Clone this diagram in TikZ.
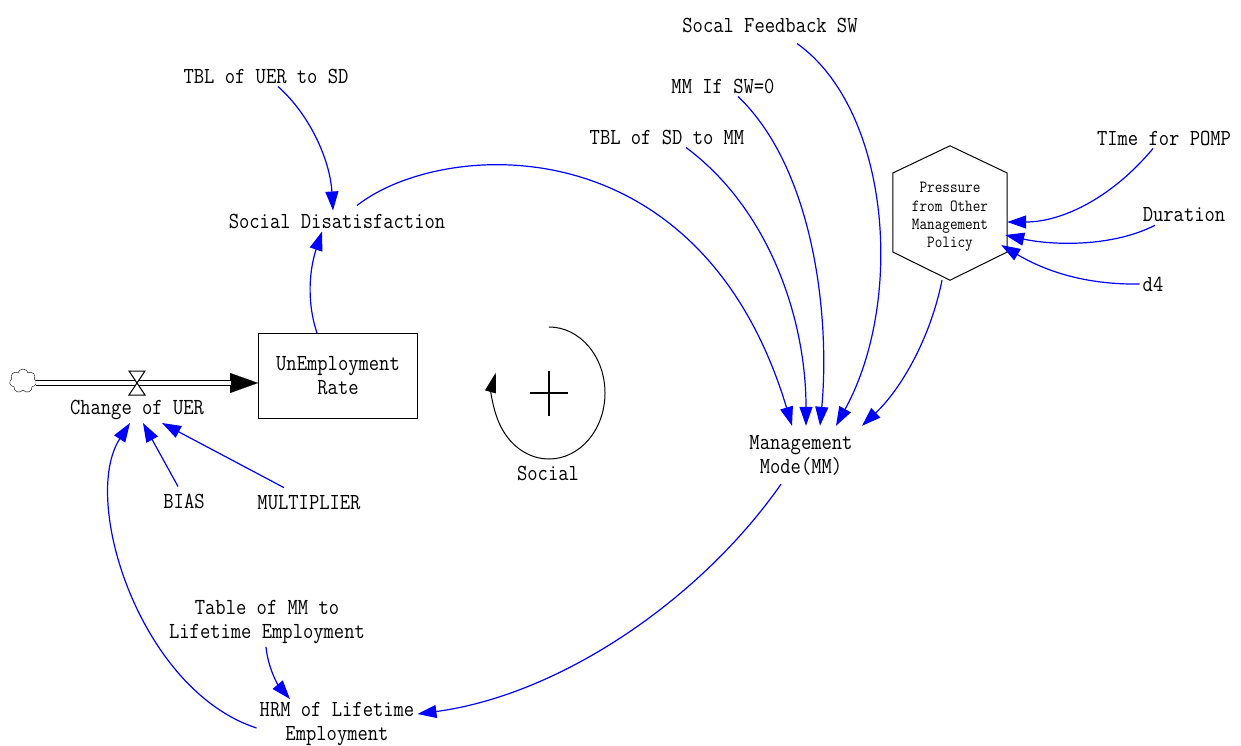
\documentclass[tikz,border=0pt]{standalone}
\usepackage{fontspec}
\newfontfamily\simfont[FakeStretch=0.87]{Latin Modern Mono}
\usetikzlibrary{arrows.meta,shapes.symbols}

\begin{document}
\begin{tikzpicture}[x=1pt, y=-1pt,
  var/.style={font=\simfont\fontsize{23}{24}\selectfont, align=center, inner sep=3pt},
  small/.style={font=\simfont\fontsize{17}{18.3}\selectfont, align=center, inner sep=1pt},
  link/.style={blue, line width=1.2pt, -{Triangle[length=19pt,width=13pt]}},
  ]
  % Canvas
  \fill[white] (0,0) rectangle (1241,746);
  \useasboundingbox (0,0) rectangle (1241,746);

  % Stock, source cloud and inflow
  \node[var, draw, line width=1pt, minimum width=159pt, minimum height=85pt] (uer) at (338,376) {UnEmployment\\Rate};
  \node[cloud, draw, cloud puffs=7, cloud puff arc=150, minimum width=27pt, minimum height=24pt, inner sep=0pt] (src) at (23,381) {};
  \coordinate (valve) at (137,383);
  \node[var] (chg) at (137,410) {Change of UER};

  \draw[line width=6.5pt, -{Triangle[length=28pt,width=20pt,line width=0.1pt]}]
    (src.east |- valve) -- (uer.west |- valve);
  \draw[line width=3.5pt, white] (src.east |- valve) -- ([xshift=-27pt]uer.west |- valve);
  \draw[fill=white, line width=1pt] (valve) -- ++(-8,-12) -- ++(16,0) -- cycle
    (valve) -- ++(-8,12) -- ++(16,0) -- cycle;

  % Loop marker
  \coordinate (loop) at (549,393);
  \draw[line width=1pt, -{Triangle[length=20pt,width=11pt]}]
    (loop) ++(0,-66) arc[start angle=-90, end angle=198, x radius=56, y radius=66];
  \draw[line width=2pt] (loop) ++(-19,0) -- ++(38,0) (loop) ++(0,-22) -- ++(0,45);
  \node[var] (social) at (548,473) {Social};

  % Auxiliaries and constants
  \node[var] (tuer) at (266,76) {TBL of UER to SD};
  \node[var] (sd) at (337,221) {Social Disatisfaction};
  \node[var] (sfsw) at (770,25) {Socal Feedback SW};
  \node[var] (mmif) at (723,86) {MM If SW=0};
  \node[var] (tsd) at (667,137) {TBL of SD to MM};
  \node[var, inner ysep=9pt] (mm) at (801,455) {Management\\Mode(MM)};
  \node[var] (tpomp) at (1164,138) {TIme for POMP};
  \node[var] (dur) at (1184,215) {Duration};
  \node[var] (d4) at (1153,284) {d4};
  \node[var] (bias) at (184,501) {BIAS};
  \node[var] (mult) at (309,503) {MULTIPLIER};
  \node[var] (tmm) at (267,622) {Table of MM to\\Lifetime Employment};
  \node[var] (hrm) at (337,724) {HRM of Lifetime\\Employment};

  % Hexagon
  \node[minimum width=114pt, minimum height=134pt,
    label={[small, yshift=-4pt]center:Pressure\\from Other\\Management\\Policy}] (pomp) at (950,213) {};
  \draw[line width=1pt] (pomp.north) -- ([yshift=40pt]pomp.east) -- ([yshift=-39pt]pomp.east)
    -- (pomp.south) -- ([yshift=-39pt]pomp.west) -- ([yshift=40pt]pomp.west) -- cycle;

  % Links
  \draw[link] ([xshift=12pt]tuer.south) .. controls (310,115) and (330,160) .. ([xshift=-4pt]sd.north);
  \draw[link] ([xshift=-21pt]uer.north) .. controls (306,300) and (310,268) .. ([xshift=-15pt]sd.south);
  \draw[link] ([xshift=20pt,yshift=5pt]sd.north) .. controls (440,140) and (700,120) .. ([xshift=-9pt]mm.north);
  \draw[link] ([xshift=19pt]tsd.south) .. controls (770,210) and (806,320) .. ([xshift=5pt]mm.north);
  \draw[link] ([xshift=15pt]mmif.south) .. controls (815,170) and (830,320) .. ([xshift=19pt]mm.north);
  \draw[link] ([xshift=27pt,yshift=-8pt]sfsw.south) .. controls (890,110) and (905,300) .. ([xshift=35pt]mm.north);
  \draw[link] ([xshift=-8pt]pomp.south) .. controls (930,340) and (900,390) .. ([xshift=61pt]mm.north);
  \draw[link] ([xshift=-11pt]tpomp.south) .. controls (1110,200) and (1060,222) .. ([yshift=-9pt]pomp.east);
  \draw[link] ([xshift=-29pt]dur.south) .. controls (1110,248) and (1050,245) .. ([xshift=-2pt,yshift=-22pt]pomp.east);
  \draw[link] (d4.west) .. controls (1080,285) and (1040,268) .. ([xshift=-6pt,yshift=-32pt]pomp.east);
  \draw[link] ([xshift=-20pt]mm.south) .. controls (700,600) and (560,695) .. ([yshift=10pt]hrm.east);
  \draw[link] ([xshift=-1pt]tmm.south) .. controls (268,668) and (278,685) .. ([xshift=-47pt]hrm.north);
  \draw[link] ([yshift=-4pt]hrm.west) .. controls (140,690) and (80,500) .. ([xshift=-7pt]chg.south);
  \draw[link] ([xshift=-6pt,yshift=4pt]bias.north) -- ([xshift=6pt]chg.south);
  \draw[link] ([xshift=-25pt,yshift=5pt]mult.north) -- ([xshift=25pt]chg.south);
\end{tikzpicture}
\end{document}
